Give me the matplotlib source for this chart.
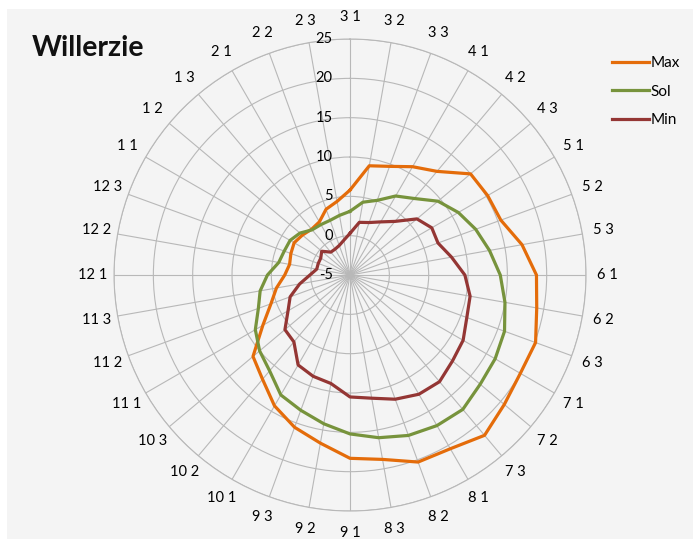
import numpy as np
import matplotlib.pyplot as plt
from matplotlib.patches import Rectangle

# ---------------------------------------------------------
# Data: decades (1-3) of each month, starting in March
# ---------------------------------------------------------
categories = ["3 1", "3 2", "3 3", "4 1", "4 2", "4 3", "5 1", "5 2", "5 3",
              "6 1", "6 2", "6 3", "7 1", "7 2", "7 3", "8 1", "8 2", "8 3",
              "9 1", "9 2", "9 3", "10 1", "10 2", "10 3", "11 1", "11 2", "11 3",
              "12 1", "12 2", "12 3", "1 1", "1 2", "1 3", "2 1", "2 2", "2 3"]

max_vals = [5.8, 9.1, 9.7, 10.9, 12.2, 15.0, 15.2, 15.4, 17.2, 18.7, 19.1, 20.1,
            20.0, 20.6, 21.6, 20.5, 20.3, 18.8, 18.3, 16.7, 15.6, 14.2, 12.3, 11.1,
            7.8, 5.7, 4.5, 3.3, 2.8, 3.0, 3.2, 2.9, 2.6, 2.8, 3.9, 4.5]
sol_vals = [3.1, 4.4, 5.1, 6.6, 7.7, 9.6, 10.9, 12.0, 13.0, 14.1, 15.0, 15.9,
            16.3, 16.6, 17.3, 17.1, 16.7, 16.0, 15.2, 14.2, 13.3, 12.6, 10.9, 10.0,
            8.9, 7.4, 6.6, 5.5, 4.2, 3.9, 3.8, 3.3, 2.5, 2.4, 2.4, 2.7]
min_vals = [0.3, 1.8, 2.1, 2.8, 3.9, 6.1, 7.0, 6.9, 8.1, 9.6, 10.5, 10.8,
            11.6, 12.0, 12.7, 12.5, 11.8, 10.9, 10.5, 9.0, 8.7, 8.2, 6.1, 5.8,
            4.1, 3.1, 1.5, 0.1, -0.7, -0.7, -0.7, -0.3, -1.2, -1.2, -1.0, -0.5]

series_names = ["Max", "Sol", "Min"]
series_colors = ["#E46C0A", "#77933C", "#943634"]

r_ticks = [-5, 0, 5, 10, 15, 20, 25]

# ---------------------------------------------------------
# Figure
# ---------------------------------------------------------
plt.rcParams["font.family"] = ["Lato", "DejaVu Sans"]

fig = plt.figure(figsize=(6.99, 5.39), dpi=100)
fig.patch.set_facecolor("white")
fig.patches.append(Rectangle((7 / 699, 0), 686 / 699, 530 / 539,
                             transform=fig.transFigure, facecolor="#f4f4f4",
                             edgecolor="none", zorder=-5))

ax = fig.add_axes([0.1631, 0.0519, 0.6753, 0.8757], projection="polar")
ax.set_facecolor("none")
ax.set_theta_zero_location("N")
ax.set_theta_direction(-1)

angles = np.deg2rad(np.arange(len(categories)) * 360 / len(categories))
closed = np.append(angles, angles[0])

for vals, name, color in zip([max_vals, sol_vals, min_vals], series_names, series_colors):
    ax.plot(closed, np.append(vals, vals[0]), color=color, lw=2.3, label=name)

ax.set_ylim(-5, 25)
ax.set_yticks(r_ticks)
ax.set_yticklabels([])
for v in r_ticks:
    ax.annotate(str(v), xy=(0, v), xytext=(-12.5, 0), textcoords="offset points",
                ha="right", va="center", fontsize=10.5, color="black")

ax.set_xticks(angles)
ax.set_xticklabels(categories, fontsize=10.5, color="black")
ax.tick_params(axis="x", pad=5)

ax.grid(True, color="#b8b8b8", lw=0.8)
ax.spines["polar"].set_color("#b8b8b8")
ax.spines["polar"].set_linewidth(0.8)

# Title and legend
fig.text(32 / 699, 1 - 48 / 539, "Willerzie", fontsize=20.5, fontweight="bold",
         ha="left", va="center", color="#111111")

fig.legend(loc="upper left", bbox_to_anchor=(612 / 699, 1 - 56 / 539),
           frameon=False, handlelength=2.4, handletextpad=0.1,
           labelspacing=0.95, borderpad=0, borderaxespad=0, fontsize=11)

fig.savefig("out.png", dpi=100)
plt.close()
